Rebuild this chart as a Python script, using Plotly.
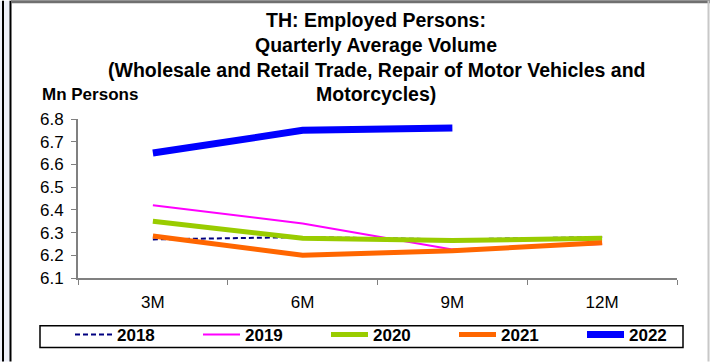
import plotly.graph_objects as go

categories = ["3M", "6M", "9M", "12M"]
years = ["2018", "2019", "2020", "2021", "2022"]
v2018 = [6.27, 6.28, 6.27, 6.28]
v2019 = [6.42, 6.34, 6.225, 6.25]
v2020 = [6.35, 6.275, 6.265, 6.275]
v2021 = [6.285, 6.20, 6.22, 6.255]
v2022 = [6.65, 6.75, 6.76, None]
yticks = [6.1, 6.2, 6.3, 6.4, 6.5, 6.6, 6.7, 6.8]

series = [v2018, v2019, v2020, v2021, v2022]
colors = ["#000080", "#FF00FF", "#99CC00", "#FF6600", "#0000FF"]
widths = [2, 2, 5, 5, 7]
dashes = ["5px,3px", "solid", "solid", "solid", "solid"]

W, H = 710, 363
L, R, T, B = 78, 677, 119, 279
pw, ph = R - L, B - T

def px(x):
    return (x - L) / pw

def py(y):
    return (B - y) / ph

fig = go.Figure()
for name, vals, c, w, d in zip(years, series, colors, widths, dashes):
    fig.add_trace(go.Scatter(
        x=categories, y=vals, name="<b>%s</b>" % name, mode="lines",
        line=dict(color=c, width=w, dash=d), connectgaps=False,
    ))

font = "Liberation Sans, Arial, sans-serif"
title_lines = [
    "TH: Employed Persons:",
    "Quarterly Average Volume",
    "(Wholesale and Retail Trade, Repair of Motor Vehicles and",
    "Motorcycles)",
]
title_y = [19, 45, 70, 94]
ann = []
for t, yy in zip(title_lines, title_y):
    ann.append(dict(text="<b>%s</b>" % t, x=px(376), y=py(yy), xref="paper", yref="paper",
                    xanchor="center", yanchor="middle", showarrow=False,
                    font=dict(family=font, size=19.5, color="black")))
ann.append(dict(text="<b>Mn Persons</b>", x=px(40), y=py(94), xref="paper", yref="paper",
                xanchor="left", yanchor="middle", showarrow=False,
                font=dict(family=font, size=17, color="black")))

shapes = [
    dict(type="rect", xref="paper", yref="paper", x0=px(0), x1=px(10), y0=py(0), y1=py(H),
         fillcolor="#EEF0FA", line=dict(width=0), layer="below"),
    dict(type="line", xref="paper", yref="paper", x0=px(3), x1=px(3), y0=py(0), y1=py(H),
         line=dict(color="black", width=2)),
    dict(type="line", xref="paper", yref="paper", x0=px(10.5), x1=px(10.5), y0=py(0), y1=py(H),
         line=dict(color="black", width=2)),
    dict(type="line", xref="paper", yref="paper", x0=px(11), x1=px(W), y0=py(1), y1=py(1),
         line=dict(color="#707070", width=3)),
    dict(type="line", xref="paper", yref="paper", x0=px(708.5), x1=px(708.5), y0=py(0), y1=py(H),
         line=dict(color="#C8C8C8", width=2)),
    # legend frame
    dict(type="rect", xref="paper", yref="paper", x0=px(40), x1=px(683), y0=py(327), y1=py(349),
         line=dict(color="black", width=1.5), fillcolor="rgba(0,0,0,0)"),
]

fig.update_layout(
    width=W, height=H,
    margin=dict(l=L, r=W - R, t=T, b=H - B),
    paper_bgcolor="white", plot_bgcolor="white",
    showlegend=True,
    legend=dict(orientation="h", x=px(77), y=py(335), xanchor="left", yanchor="middle",
                borderwidth=0, bgcolor="rgba(0,0,0,0)",
                entrywidth=76, entrywidthmode="pixels",
                font=dict(family=font, size=17, color="black"), traceorder="normal",
                itemwidth=37),
    annotations=ann,
    shapes=shapes,
    font=dict(family=font, size=17, color="black"),
)
fig.update_xaxes(type="category", range=[-0.5, 3.5], tickson="boundaries",
                 showline=True, linecolor="#808080", linewidth=2,
                 ticks="outside", ticklen=5, tickcolor="#808080",
                 showgrid=False, zeroline=False, ticklabelstandoff=8,
                 tickfont=dict(family=font, size=17, color="black"))
fig.update_yaxes(range=[6.1, 6.8], tickvals=yticks, ticktext=["%.1f" % v for v in yticks],
                 showline=True, linecolor="#808080", linewidth=2,
                 ticks="outside", ticklen=5, tickcolor="#808080",
                 showgrid=False, zeroline=False, ticklabelstandoff=4,
                 tickfont=dict(family=font, size=17, color="black"))

fig.write_html("out.html", config={"displayModeBar": False},
               post_script="document.body.style.margin='0';document.body.style.overflow='hidden';")
